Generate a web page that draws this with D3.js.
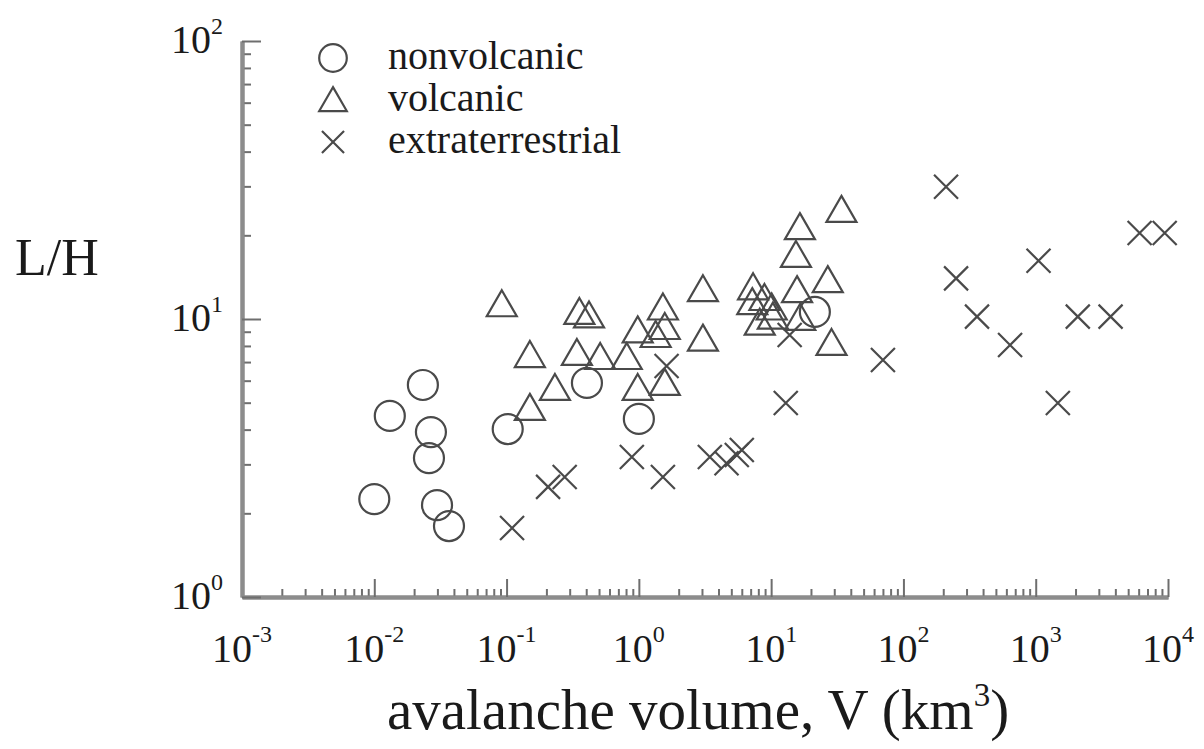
<!DOCTYPE html>
<html>
<head>
<meta charset="utf-8">
<script src="https://cdn.jsdelivr.net/npm/d3@7"></script>
<style>
  body { margin: 0; background: #fff; }
  text { font-family: "Liberation Serif", "Times New Roman", serif; fill: #1a1a1a; }
</style>
</head>
<body>
<div id="chart"></div>
<script>
// data: [volume km^3, L/H]
var nonvolcanic = [
  [0.0233, 5.79], [0.0131, 4.48], [0.0268, 3.92], [0.0259, 3.16],
  [0.0100, 2.25], [0.0298, 2.14], [0.0367, 1.80], [0.102, 4.02],
  [0.405, 5.89], [1.00, 4.37], [21.4, 10.6]
];
var volcanic = [
  [0.092, 11.3], [0.355, 10.6], [0.42, 10.3], [1.52, 11.0], [3.05, 12.8],
  [0.98, 9.1], [1.57, 9.36], [1.34, 8.76], [3.05, 8.5],
  [0.15, 7.42], [0.34, 7.55], [0.51, 7.3], [0.81, 7.3],
  [0.232, 5.65], [0.98, 5.65], [1.57, 5.89], [0.15, 4.79],
  [7.3, 13.0], [7.2, 11.5], [8.9, 11.9], [10.1, 11.0], [8.2, 9.7], [10.3, 10.2],
  [15.7, 12.7], [16.6, 10.1], [34, 24.7], [16.5, 21.4], [15.4, 17.0],
  [26.8, 13.8], [28.6, 8.2]
];
var extraterrestrial = [
  [0.11, 1.77], [0.206, 2.49], [0.275, 2.70], [0.885, 3.19], [1.52, 2.70],
  [1.62, 6.78], [3.44, 3.19], [4.6, 3.03], [5.5, 3.24], [6.0, 3.38],
  [12.9, 4.99], [13.8, 8.76], [70, 7.12], [210, 29.9], [250, 14.0],
  [360, 10.2], [640, 8.06], [1050, 16.2], [1470, 4.99], [2080, 10.2],
  [3680, 10.2], [6100, 20.4], [9440, 20.4]
];
var legendNames = ["nonvolcanic", "volcanic", "extraterrestrial"];
var xExponents = [-3, -2, -1, 0, 1, 2, 3, 4];
var yExponents = [0, 1, 2];

var width = 1204, height = 749;
var svg = d3.select("#chart").append("svg")
    .attr("width", width)
    .attr("height", height);

var x = d3.scaleLog().domain([1e-3, 1e4]).range([242, 1168]);
var y = d3.scaleLog().domain([1, 100]).range([597, 41]);

// minor ticks 2..9 in every decade
function minors(lo, hi) {
  var out = [];
  for (var e = lo; e < hi; e++)
    for (var m = 2; m <= 9; m++) out.push(m * Math.pow(10, e));
  return out;
}
var axisColor = "#8c8c8c";

var gx = svg.append("g").attr("transform", "translate(0," + y(1) + ")");
gx.call(d3.axisBottom(x).tickValues(minors(-3, 4)).tickSize(-8).tickSizeOuter(0).tickFormat(""));
gx.append("g").call(d3.axisBottom(x).tickValues(xExponents.map(function(e){ return Math.pow(10, e); }))
    .tickSize(-18).tickSizeOuter(0).tickFormat(""));

var gy = svg.append("g").attr("transform", "translate(" + x(1e-3) + ",0)");
gy.call(d3.axisLeft(y).tickValues(minors(0, 2)).tickSize(-9).tickSizeOuter(0).tickFormat(""));
gy.append("g").call(d3.axisLeft(y).tickValues(yExponents.map(function(e){ return Math.pow(10, e); }))
    .tickSize(-19).tickSizeOuter(0).tickFormat(""));

svg.selectAll(".domain").attr("stroke", axisColor).attr("stroke-width", 4);
svg.selectAll(".tick line").attr("stroke", "#6e6e6e").attr("stroke-width", 2);

// tick labels 10^n
var xl = svg.selectAll(".xlab").data(xExponents).enter().append("text")
    .attr("class", "xlab")
    .attr("x", function(d){ return x(Math.pow(10, d)); })
    .attr("y", 662)
    .attr("text-anchor", "middle")
    .attr("font-size", "40px")
    .text("10");
xl.append("tspan").attr("dy", -20).attr("font-size", "24px").text(function(d){ return d; });

var yl = svg.selectAll(".ylab").data(yExponents).enter().append("text")
    .attr("class", "ylab")
    .attr("x", 223)
    .attr("y", function(d){ return y(Math.pow(10, d)) + 12; })
    .attr("text-anchor", "end")
    .attr("font-size", "40px")
    .text("10");
yl.append("tspan").attr("dy", -19).attr("font-size", "24px").text(function(d){ return d; });

// axis titles
svg.append("text")
    .attr("x", 15).attr("y", 275)
    .attr("font-size", "52px")
    .text("L/H");
var xt = svg.append("text")
    .attr("x", 698).attr("y", 729)
    .attr("text-anchor", "middle")
    .attr("font-size", "57px")
    .text("avalanche volume, V (km");
xt.append("tspan").attr("dy", -23).attr("font-size", "33px").text("3");
xt.append("tspan").attr("dy", 23).text(")");

// markers
var mk = "#4a4a4a";
function drawCircle(sel, s) {
  s = s || 1;
  sel.append("circle").attr("r", 15 * s).attr("fill", "none").attr("stroke", mk).attr("stroke-width", 2.2);
}
function drawTriangle(sel, s) {
  s = s || 1;
  sel.append("path").attr("d", "M0," + (-14 * s) + "L" + (15 * s) + "," + (12 * s) + "L" + (-15 * s) + "," + (12 * s) + "Z")
    .attr("fill", "none").attr("stroke", mk).attr("stroke-width", 2.2);
}
function drawCross(sel, s) {
  s = s || 1;
  var k = 12 * s;
  sel.append("path").attr("d", "M" + (-k) + "," + (-k) + "L" + k + "," + k + "M" + (-k) + "," + k + "L" + k + "," + (-k))
    .attr("fill", "none").attr("stroke", mk).attr("stroke-width", 2.2);
}

function pos(d) { return "translate(" + x(d[0]) + "," + y(d[1]) + ")"; }
svg.append("g").selectAll("g").data(nonvolcanic).enter().append("g").attr("transform", pos).call(drawCircle);
svg.append("g").selectAll("g").data(volcanic).enter().append("g").attr("transform", pos).call(drawTriangle);
svg.append("g").selectAll("g").data(extraterrestrial).enter().append("g").attr("transform", pos).call(drawCross);

// legend
var drawers = [drawCircle, drawTriangle, drawCross];
var lg = svg.append("g").selectAll("g").data(legendNames).enter().append("g")
    .attr("transform", function(d, i){ return "translate(333," + (58 + i * 42) + ")"; });
lg.each(function(d, i){ drawers[i](d3.select(this), 0.92); });
lg.append("text")
    .attr("x", 55).attr("y", 11)
    .attr("font-size", "40px")
    .text(function(d){ return d; });
</script>
</body>
</html>
